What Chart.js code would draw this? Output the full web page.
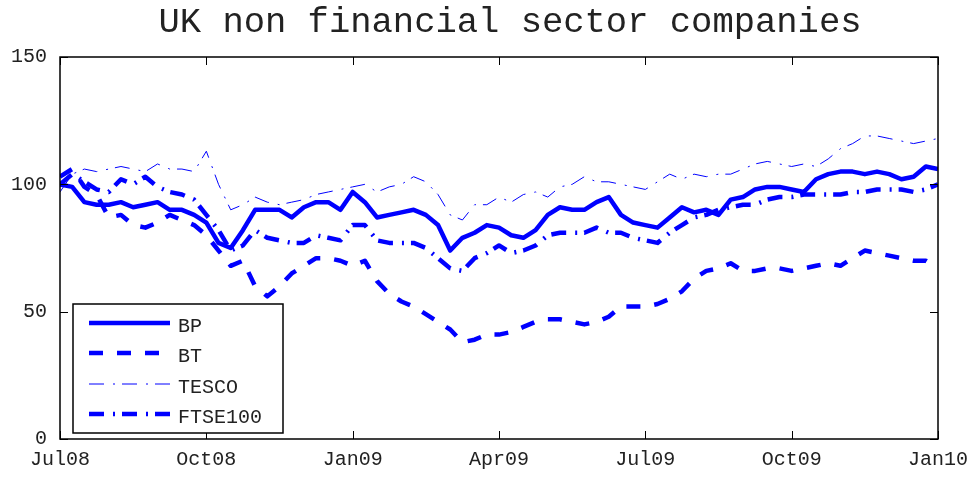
<!DOCTYPE html>
<html>
<head>
<meta charset="utf-8">
<title>UK non financial sector companies</title>
<script src="https://cdn.jsdelivr.net/npm/chart.js@4.4.0/dist/chart.umd.min.js"></script>
<style>
  html, body { margin: 0; padding: 0; background: #ffffff; }
  #wrap { width: 969px; height: 477px; position: relative; }
</style>
</head>
<body>
<div id="wrap"><canvas id="stocksChart"></canvas></div>
<script>
// months since Jul08 (weekly-ish sampling)
const months = [
  0, 0.25, 0.5, 0.75, 1, 1.25, 1.5, 1.75, 2, 2.25, 2.5, 2.75,
  3, 3.25, 3.5, 3.75, 4, 4.25, 4.5, 4.75, 5, 5.25, 5.5, 5.75,
  6, 6.25, 6.5, 6.75, 7, 7.25, 7.5, 7.75, 8, 8.25, 8.5, 8.75,
  9, 9.25, 9.5, 9.75, 10, 10.25, 10.5, 10.75, 11, 11.25, 11.5, 11.75,
  12, 12.25, 12.5, 12.75, 13, 13.25, 13.5, 13.75, 14, 14.25, 14.5, 14.75,
  15, 15.25, 15.5, 15.75, 16, 16.25, 16.5, 16.75, 17, 17.25, 17.5, 17.75,
  18
];

const bp = [
  100, 99, 93, 92, 92, 93, 91, 92, 93, 90, 90, 88,
  85, 77, 75, 82, 90, 90, 90, 87, 91, 93, 93, 90,
  97, 93, 87, 88, 89, 90, 88, 84, 74, 79, 81, 84,
  83, 80, 79, 82, 88, 91, 90, 90, 93, 95, 88, 85,
  84, 83, 87, 91, 89, 90, 88, 94, 95, 98, 99, 99,
  98, 97, 102, 104, 105, 105, 104, 105, 104, 102, 103, 107,
  106
];

const bt = [
  103, 106, 99, 96, 87, 88, 84, 83, 85, 88, 86, 84,
  80, 74, 68, 70, 60, 56, 60, 65, 68, 71, 71, 70,
  68, 70, 62, 57, 54, 52, 49, 46, 43, 38, 39, 41,
  41, 42, 44, 46, 47, 47, 46, 45, 46, 48, 52, 52,
  52, 53, 55, 58, 63, 66, 67, 69, 66, 66, 67, 67,
  66, 67, 68, 69, 68, 71, 74, 73, 72, 71, 70, 70,
  67
];

const tesco = [
  97, 104, 106, 105, 106, 107, 106, 105, 108, 106, 106, 105,
  113, 100, 90, 92, 95, 93, 92, 93, 94, 96, 97, 98,
  99, 100, 97, 99, 100, 103, 101, 96, 88, 86, 92, 92,
  95, 93, 96, 97, 95, 99, 100, 103, 101, 101, 100, 99,
  98, 101, 104, 102, 104, 103, 104, 104, 106, 108, 109, 108,
  107, 108, 107, 110, 114, 116, 119, 119, 118, 117, 116, 117,
  118
];

const ftse100 = [
  100, 104, 101, 98, 97, 102, 100, 103, 99, 97, 96, 94,
  88, 82, 74, 76, 82, 79, 78, 77, 77, 80, 79, 78,
  84, 84, 78, 77, 77, 77, 75, 71, 67, 66, 71, 73,
  76, 73, 74, 76, 80, 81, 81, 81, 83, 81, 81, 79,
  78, 77, 81, 84, 87, 88, 90, 91, 92, 92, 94, 95,
  95, 96, 96, 96, 96, 97, 97, 98, 98, 98, 97, 98,
  100
];

const seriesNames = ['BP', 'BT', 'TESCO', 'FTSE100'];
const xTickLabels = ['Jul08', 'Oct08', 'Jan09', 'Apr09', 'Jul09', 'Oct09', 'Jan10'];
const yTicks = [0, 50, 100, 150];
const titulo = 'UK non financial sector companies';

const azul = '#0000ff';
const textColor = '#222222';
const fontFam = '"Liberation Mono", "Courier New", monospace';

function toPoints(vals) {
  return vals.map((v, i) => ({ x: months[i], y: v }));
}

// marco estilo matlab + ticks hacia adentro + leyenda + titulo
const framePlugin = {
  id: 'framePlugin',
  afterDraw(chart) {
    const ctx = chart.ctx;
    const a = chart.chartArea;
    const xs = chart.scales.x;
    const ys = chart.scales.y;
    const tl = 8;
    ctx.save();

    // titulo
    ctx.fillStyle = textColor;
    ctx.font = '35.5px ' + fontFam;
    ctx.textAlign = 'center';
    ctx.textBaseline = 'middle';
    ctx.fillText(titulo, 510, 23);

    ctx.strokeStyle = '#000000';
    ctx.lineWidth = 1.5;
    ctx.strokeRect(a.left, a.top, a.right - a.left, a.bottom - a.top);
    ctx.lineWidth = 1;
    ctx.beginPath();
    for (let i = 0; i < xTickLabels.length; i++) {
      const px = Math.round(xs.getPixelForValue(i * 3)) + 0.5;
      ctx.moveTo(px, a.bottom); ctx.lineTo(px, a.bottom - tl);
      ctx.moveTo(px, a.top); ctx.lineTo(px, a.top + tl);
    }
    yTicks.forEach(v => {
      const py = Math.round(ys.getPixelForValue(v)) + 0.5;
      ctx.moveTo(a.left, py); ctx.lineTo(a.left + tl, py);
      ctx.moveTo(a.right, py); ctx.lineTo(a.right - tl, py);
    });
    ctx.stroke();

    // leyenda
    const bx = 73, by = 304, bw = 210, bh = 129;
    ctx.fillStyle = '#ffffff';
    ctx.fillRect(bx, by, bw, bh);
    ctx.lineWidth = 1.5;
    ctx.strokeStyle = '#000000';
    ctx.strokeRect(bx, by, bw, bh);
    const rows = [323, 353, 384, 414];
    chart.data.datasets.forEach((ds, i) => {
      ctx.beginPath();
      ctx.strokeStyle = ds.borderColor;
      ctx.lineWidth = ds.borderWidth;
      ctx.setLineDash(ds.borderDash || []);
      ctx.lineCap = 'butt';
      ctx.moveTo(89, rows[i]);
      ctx.lineTo(170, rows[i]);
      ctx.stroke();
      ctx.setLineDash([]);
      ctx.fillStyle = textColor;
      ctx.font = '20px ' + fontFam;
      ctx.textBaseline = 'middle';
      ctx.textAlign = 'left';
      ctx.fillText(ds.label, 178, rows[i] + 4);
    });
    ctx.restore();
  }
};

function crearGrafico() {
  const ctx = document.getElementById('stocksChart').getContext('2d');
  const data = {
    datasets: [
      { label: seriesNames[0], data: toPoints(bp), borderColor: azul, borderWidth: 4.5, borderDash: [] },
      { label: seriesNames[1], data: toPoints(bt), borderColor: azul, borderWidth: 4.5, borderDash: [14, 14] },
      { label: seriesNames[2], data: toPoints(tesco), borderColor: azul, borderWidth: 1, borderDash: [15, 9, 2, 7] },
      { label: seriesNames[3], data: toPoints(ftse100), borderColor: azul, borderWidth: 4.5, borderDash: [15, 9, 2, 7] }
    ]
  };
  data.datasets.forEach(ds => {
    ds.pointRadius = 0;
    ds.tension = 0;
    ds.fill = false;
    ds.borderJoinStyle = 'round';
  });

  return new Chart(ctx, {
    type: 'line',
    data: data,
    plugins: [framePlugin],
    options: {
      responsive: true,
      maintainAspectRatio: false,
      animation: false,
      layout: { padding: { left: 0, right: 31, top: 57, bottom: 0 } },
      plugins: {
        legend: { display: false },
        tooltip: { enabled: false },
        title: { display: false }
      },
      scales: {
        x: {
          type: 'linear',
          min: 0,
          max: 18,
          afterFit(scale) {
            scale.height = 38;
            scale.paddingLeft = 0;
            scale.paddingRight = 0;
          },
          afterBuildTicks(scale) {
            scale.ticks = xTickLabels.map((_, i) => ({ value: i * 3 }));
          },
          ticks: {
            color: textColor,
            font: { family: fontFam, size: 20 },
            padding: 9,
            maxRotation: 0,
            autoSkip: false,
            callback: (v) => xTickLabels[Math.round(v / 3)]
          },
          grid: { display: false, drawTicks: false },
          border: { display: false }
        },
        y: {
          min: 0,
          max: 150,
          afterFit(scale) {
            scale.width = 60;
            scale.paddingTop = 0;
            scale.paddingBottom = 0;
          },
          afterBuildTicks(scale) {
            scale.ticks = yTicks.map(v => ({ value: v }));
          },
          ticks: {
            color: textColor,
            font: { family: fontFam, size: 20 },
            padding: 13
          },
          grid: { display: false, drawTicks: false },
          border: { display: false }
        }
      }
    }
  });
}

document.addEventListener('DOMContentLoaded', () => {
  crearGrafico();
});
</script>
</body>
</html>
